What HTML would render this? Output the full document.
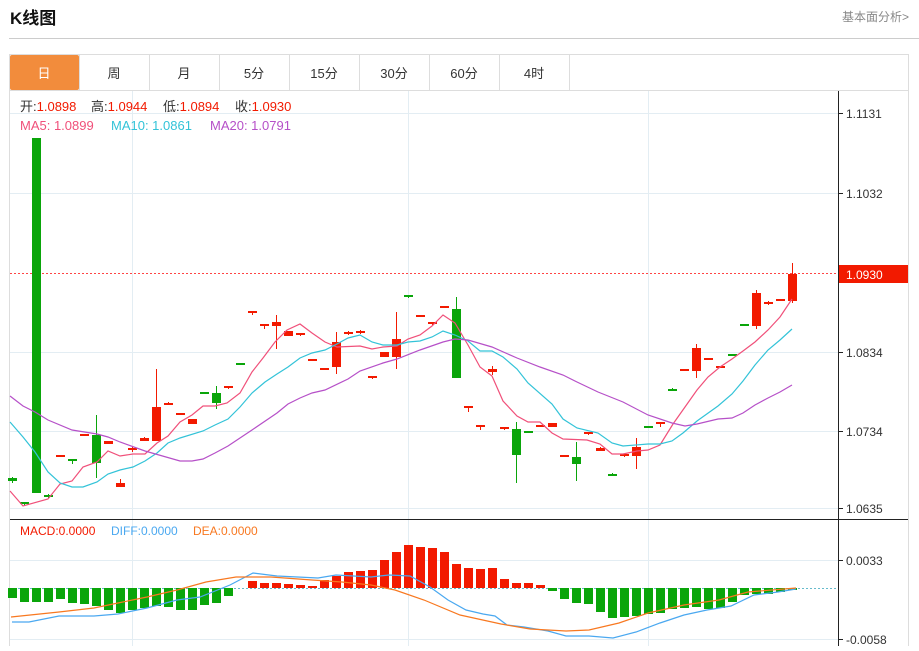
<!DOCTYPE html>
<html><head><meta charset="utf-8"><style>
body{margin:0;background:#fff;font-family:"Liberation Sans","Noto Sans CJK SC",sans-serif;}
</style></head><body>
<svg width="919" height="646" xmlns="http://www.w3.org/2000/svg" font-family="Liberation Sans, Noto Sans CJK SC, sans-serif">
<text x="10" y="24" font-size="17" font-weight="bold" fill="#111">K线图</text>
<text x="842" y="21" font-size="12" fill="#888">基本面分析&gt;</text>
<line x1="9" y1="38.5" x2="919" y2="38.5" stroke="#ccc"/>
<rect x="9.5" y="54.5" width="899" height="600" fill="none" stroke="#ddd"/>
<line x1="10" y1="90.5" x2="908" y2="90.5" stroke="#ddd"/>
<rect x="10" y="55" width="69" height="35" fill="#f28c3c" rx="2"/>
<g stroke="#ddd"><line x1="79.5" y1="55" x2="79.5" y2="90"/><line x1="149.5" y1="55" x2="149.5" y2="90"/><line x1="219.5" y1="55" x2="219.5" y2="90"/><line x1="289.5" y1="55" x2="289.5" y2="90"/><line x1="359.5" y1="55" x2="359.5" y2="90"/><line x1="429.5" y1="55" x2="429.5" y2="90"/><line x1="499.5" y1="55" x2="499.5" y2="90"/><line x1="569.5" y1="55" x2="569.5" y2="90"/></g>
<g font-size="13" text-anchor="middle" fill="#333"><text x="44" y="78" fill="#fff">日</text><text x="114" y="78">周</text><text x="184" y="78">月</text><text x="254" y="78">5分</text><text x="324" y="78">15分</text><text x="394" y="78">30分</text><text x="464" y="78">60分</text><text x="534" y="78">4时</text></g>
<g stroke="#e3edf3"><line x1="132.5" y1="91" x2="132.5" y2="646"/><line x1="408.5" y1="91" x2="408.5" y2="646"/><line x1="648.5" y1="91" x2="648.5" y2="646"/>
<line x1="10" y1="113.5" x2="838" y2="113.5"/><line x1="10" y1="193.5" x2="838" y2="193.5"/><line x1="10" y1="352.5" x2="838" y2="352.5"/><line x1="10" y1="431.5" x2="838" y2="431.5"/><line x1="10" y1="508.5" x2="838" y2="508.5"/>
<line x1="10" y1="560.5" x2="838" y2="560.5"/><line x1="10" y1="639.5" x2="838" y2="639.5"/></g>
<line x1="838.5" y1="91" x2="838.5" y2="646" stroke="#222"/>
<line x1="10" y1="519.5" x2="908" y2="519.5" stroke="#222"/>
<g font-size="12" fill="#333" stroke="none"><line x1="838" y1="113.5" x2="843" y2="113.5" stroke="#222"/><text x="846" y="118">1.1131</text>
<line x1="838" y1="193.5" x2="843" y2="193.5" stroke="#222"/><text x="846" y="198">1.1032</text>
<line x1="838" y1="352.5" x2="843" y2="352.5" stroke="#222"/><text x="846" y="357">1.0834</text>
<line x1="838" y1="431.5" x2="843" y2="431.5" stroke="#222"/><text x="846" y="436">1.0734</text>
<line x1="838" y1="508.5" x2="843" y2="508.5" stroke="#222"/><text x="846" y="513">1.0635</text>
<line x1="838" y1="560.5" x2="843" y2="560.5" stroke="#222"/><text x="846" y="565">0.0033</text>
<line x1="838" y1="639.5" x2="843" y2="639.5" stroke="#222"/><text x="846" y="644">-0.0058</text></g>
<line x1="10" y1="273.5" x2="838" y2="273.5" stroke="#f44" stroke-dasharray="2,2"/>
<rect x="839" y="265" width="69" height="18" fill="#f21a00"/>
<text x="846" y="279" font-size="12" fill="#fff">1.0930</text>
<line x1="10" y1="588.5" x2="838" y2="588.5" stroke="#6bc" stroke-dasharray="2,2"/>
<g font-size="13">
<text x="20" y="111" fill="#333">开:<tspan fill="#f21a00">1.0898</tspan></text>
<text x="91" y="111" fill="#333">高:<tspan fill="#f21a00">1.0944</tspan></text>
<text x="163" y="111" fill="#333">低:<tspan fill="#f21a00">1.0894</tspan></text>
<text x="235" y="111" fill="#333">收:<tspan fill="#f21a00">1.0930</tspan></text>
<text x="20" y="130" fill="#f0507a">MA5: 1.0899</text><text x="111" y="130" fill="#33c3d8">MA10: 1.0861</text><text x="210" y="130" fill="#b650c8">MA20: 1.0791</text>
<text x="20" y="535" font-size="12" fill="#f21a00">MACD:0.0000</text><text x="111" y="535" font-size="12" fill="#4aa8f0">DIFF:0.0000</text><text x="193" y="535" font-size="12" fill="#f87820">DEA:0.0000</text></g>
<!-- MACD bars -->
<g fill="#0aa50a">
<rect x="8" y="588" width="9" height="10"/><rect x="20" y="588" width="9" height="14"/><rect x="32" y="588" width="9" height="14"/><rect x="44" y="588" width="9" height="14"/><rect x="56" y="588" width="9" height="11"/><rect x="68" y="588" width="9" height="15"/><rect x="80" y="588" width="9" height="16"/><rect x="92" y="588" width="9" height="18"/><rect x="104" y="588" width="9" height="22"/><rect x="116" y="588" width="9" height="25"/><rect x="128" y="588" width="9" height="22"/><rect x="140" y="588" width="9" height="20"/><rect x="152" y="588" width="9" height="18"/><rect x="164" y="588" width="9" height="19"/><rect x="176" y="588" width="9" height="22"/><rect x="188" y="588" width="9" height="22"/><rect x="200" y="588" width="9" height="17"/><rect x="212" y="588" width="9" height="15"/><rect x="224" y="588" width="9" height="8"/>
<rect x="548" y="588" width="9" height="3"/><rect x="560" y="588" width="9" height="11"/><rect x="572" y="588" width="9" height="15"/><rect x="584" y="588" width="9" height="16"/><rect x="596" y="588" width="9" height="24"/><rect x="608" y="588" width="9" height="30"/><rect x="620" y="588" width="9" height="29"/><rect x="632" y="588" width="9" height="28"/><rect x="644" y="588" width="9" height="26"/><rect x="656" y="588" width="9" height="25"/><rect x="668" y="588" width="9" height="21"/><rect x="680" y="588" width="9" height="20"/><rect x="692" y="588" width="9" height="19"/><rect x="704" y="588" width="9" height="21"/><rect x="716" y="588" width="9" height="20"/><rect x="728" y="588" width="9" height="14"/><rect x="740" y="588" width="9" height="7"/><rect x="752" y="588" width="9" height="6"/><rect x="764" y="588" width="9" height="6"/><rect x="776" y="588" width="9" height="4"/><rect x="788" y="588" width="9" height="2"/>
</g>
<g fill="#f21a00">
<rect x="248" y="581" width="9" height="7"/><rect x="260" y="583" width="9" height="5"/><rect x="272" y="583" width="9" height="5"/><rect x="284" y="584" width="9" height="4"/><rect x="296" y="585" width="9" height="3"/><rect x="308" y="586" width="9" height="2"/><rect x="320" y="580" width="9" height="8"/><rect x="332" y="576" width="9" height="12"/><rect x="344" y="572" width="9" height="16"/><rect x="356" y="571" width="9" height="17"/><rect x="368" y="570" width="9" height="18"/><rect x="380" y="560" width="9" height="28"/><rect x="392" y="552" width="9" height="36"/><rect x="404" y="545" width="9" height="43"/><rect x="416" y="547" width="9" height="41"/><rect x="428" y="548" width="9" height="40"/><rect x="440" y="552" width="9" height="36"/><rect x="452" y="564" width="9" height="24"/><rect x="464" y="568" width="9" height="20"/><rect x="476" y="569" width="9" height="19"/><rect x="488" y="568" width="9" height="20"/><rect x="500" y="579" width="9" height="9"/><rect x="512" y="583" width="9" height="5"/><rect x="524" y="583" width="9" height="5"/><rect x="536" y="585" width="9" height="3"/>
</g>
<!-- candles green -->
<g fill="#0aa50a">
<path d="M12.5 477V483M24.5 502V505M48.5 494V498M72.5 459V464M96.5 415V478M216.5 386V409M408.5 295V298M456.5 297V378M516.5 422V483M576.5 442V481M612.5 473V476M672.5 388V391" stroke="#0aa50a"/>
<rect x="8" y="478" width="9" height="3"/><rect x="20" y="502" width="9" height="2"/><rect x="32" y="138" width="9" height="355"/><rect x="44" y="495" width="9" height="2"/><rect x="68" y="459" width="9" height="2"/><rect x="92" y="435" width="9" height="28"/><rect x="200" y="392" width="9" height="2"/><rect x="212" y="393" width="9" height="10"/><rect x="236" y="363" width="9" height="2"/><rect x="404" y="295" width="9" height="2"/><rect x="452" y="309" width="9" height="69"/><rect x="512" y="429" width="9" height="26"/><rect x="524" y="431" width="9" height="2"/><rect x="572" y="457" width="9" height="7"/><rect x="608" y="474" width="9" height="2"/><rect x="644" y="426" width="9" height="2"/><rect x="668" y="389" width="9" height="2"/><rect x="728" y="354" width="9" height="2"/><rect x="740" y="324" width="9" height="2"/>
</g>
<g fill="#f21a00">
<path d="M120.5 479V487M132.5 447V452M144.5 437V441M156.5 369V441M168.5 402V405M228.5 386V389M252.5 311V315M264.5 324V329M276.5 315V349M300.5 333V336M336.5 332V374M348.5 331V335M360.5 330V334M372.5 376V379M396.5 312V369M432.5 322V325M468.5 406V412M480.5 425V430M492.5 366V375M504.5 427V430M588.5 432V435M600.5 447V451M624.5 454V457M636.5 438V469M660.5 422V427M696.5 344V378M756.5 290V329M768.5 301V305M792.5 263V303" stroke="#f21a00"/>
<rect x="56" y="455" width="9" height="2"/><rect x="80" y="434" width="9" height="2"/><rect x="104" y="441" width="9" height="3"/><rect x="116" y="483" width="9" height="4"/><rect x="128" y="448" width="9" height="2"/><rect x="140" y="438" width="9" height="3"/><rect x="152" y="407" width="9" height="34"/><rect x="164" y="403" width="9" height="2"/><rect x="176" y="413" width="9" height="2"/><rect x="188" y="419" width="9" height="5"/><rect x="224" y="386" width="9" height="2"/><rect x="248" y="311" width="9" height="2"/><rect x="260" y="324" width="9" height="2"/><rect x="272" y="322" width="9" height="4"/><rect x="284" y="331" width="9" height="5"/><rect x="296" y="333" width="9" height="2"/><rect x="308" y="359" width="9" height="2"/><rect x="320" y="368" width="9" height="2"/><rect x="332" y="342" width="9" height="25"/><rect x="344" y="332" width="9" height="2"/><rect x="356" y="331" width="9" height="2"/><rect x="368" y="376" width="9" height="2"/><rect x="380" y="352" width="9" height="5"/><rect x="392" y="339" width="9" height="18"/><rect x="416" y="315" width="9" height="2"/><rect x="428" y="322" width="9" height="2"/><rect x="440" y="306" width="9" height="2"/><rect x="464" y="406" width="9" height="2"/><rect x="476" y="425" width="9" height="2"/><rect x="488" y="369" width="9" height="3"/><rect x="500" y="427" width="9" height="2"/><rect x="536" y="425" width="9" height="2"/><rect x="548" y="423" width="9" height="4"/><rect x="560" y="455" width="9" height="2"/><rect x="584" y="432" width="9" height="2"/><rect x="596" y="448" width="9" height="3"/><rect x="620" y="454" width="9" height="2"/><rect x="632" y="447" width="9" height="9"/><rect x="656" y="422" width="9" height="2"/><rect x="680" y="369" width="9" height="2"/><rect x="692" y="348" width="9" height="23"/><rect x="704" y="358" width="9" height="2"/><rect x="716" y="366" width="9" height="2"/><rect x="752" y="293" width="9" height="33"/><rect x="764" y="302" width="9" height="2"/><rect x="776" y="299" width="9" height="2"/><rect x="788" y="274" width="9" height="27"/>
</g>
<polyline fill="none" stroke="#f0507a" stroke-width="1.2" points="10,491 23,506 48,499 60,484 72,481 83,467 97,462 108,451 120,456 133,454 145,454 157,443 168,436 180,422 192,415 203,406 215,406 227,403 240,393 252,372 263,358 275,342 287,330 300,324 312,333 325,342 337,347 360,346 372,349 383,347 397,346 408,339 420,335 432,326 443,315 455,323 468,345 480,367 492,376 503,401 517,416 528,422 540,422 552,433 563,439 587,440 600,444 612,454 623,454 637,451 648,450 660,445 673,424 685,407 697,390 708,377 720,367 732,359 743,351 755,342 768,330 780,317 792,299"/>
<polyline fill="none" stroke="#33c3d8" stroke-width="1.2" points="10,422 23,437 35,452 48,472 60,483 72,487 83,487 97,482 108,474 120,470 133,467 145,461 157,453 168,443 180,438 203,431 215,425 228,419 240,407 252,393 265,382 277,374 288,367 300,358 312,353 325,350 337,344 348,338 360,335 372,342 383,345 397,345 408,342 420,341 432,337 443,331 455,335 468,341 480,351 492,351 503,357 517,369 528,383 552,404 563,419 577,428 598,433 612,443 623,446 648,444 660,444 672,441 683,433 697,421 718,406 732,394 743,381 755,365 768,350 780,340 792,329"/>
<polyline fill="none" stroke="#b650c8" stroke-width="1.2" points="10,396 23,406 35,412 48,420 72,430 97,434 108,437 120,442 145,451 180,461 192,461 203,459 215,453 228,446 252,430 277,413 288,404 300,398 312,393 325,390 348,379 360,371 383,363 397,359 420,350 443,342 455,339 468,340 492,347 517,358 540,367 563,375 577,382 598,392 623,402 648,415 672,423 685,426 697,424 718,419 732,418 743,413 755,405 768,398 780,392 792,385"/>
<polyline fill="none" stroke="#4aa8f0" stroke-width="1.2" points="12,622 29,622 59,616 94,616 118,614 147,608 177,600 200,597 230,585 253,573 277,576 318,578 336,575 371,577 389,575 410,576 430,587 448,600 466,610 483,614 495,616 507,625 524,627 548,631 566,636 589,636 613,638 636,632 660,623 684,615 707,610 731,606 754,595 778,592 796,589"/>
<polyline fill="none" stroke="#f87820" stroke-width="1.2" points="11,617 59,612 94,608 118,603 147,597 177,590 206,582 236,577 271,577 312,580 342,582 371,585 395,590 424,600 460,615 501,624 530,629 566,631 589,630 619,623 648,613 684,605 719,600 748,592 796,588"/>
</svg>
</body></html>
